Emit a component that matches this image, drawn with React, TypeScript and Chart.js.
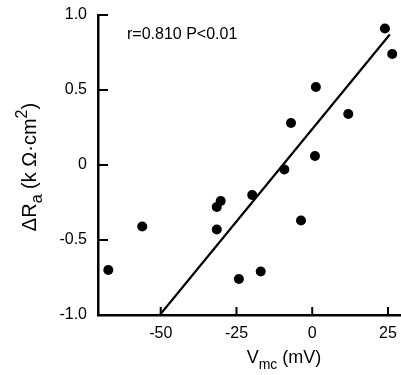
import { useEffect, useRef } from "react";
import { Chart, registerables } from "chart.js";

Chart.register(...registerables);

const VMC = [-67.3, -56.1, -31.5, -30.2, -31.5, -24.2, -19.8, -17.0, -9.2, -7.0, -3.7, 0.9, 1.2, 11.9, 24.0, 26.4];
const DRA = [-0.70, -0.41, -0.28, -0.24, -0.43, -0.76, -0.20, -0.71, -0.03, 0.28, -0.37, 0.06, 0.52, 0.34, 0.91, 0.74];
const FIT_X = [-50.3, 25.6];
const FIT_Y = [-1.0, 0.87];
const X_TICKS = [-50, -25, 0, 25];
const X_TICK_LABELS = ["-50", "-25", "0", "25"];
const Y_TICKS = [1.0, 0.5, 0, -0.5, -1.0];
const Y_TICK_LABELS = ["1.0", "0.5", "0", "-0.5", "-1.0"];
const ANNOTATION = "r=0.810 P<0.01";

const FONT = "'Liberation Sans', Arial, sans-serif";

const decor = {
  id: "decor",
  afterDraw(chart: any) {
    const ctx = chart.ctx as CanvasRenderingContext2D;
    const { left, bottom, top } = chart.chartArea;
    const xs = chart.scales.x;
    const ys = chart.scales.y;
    ctx.save();
    ctx.strokeStyle = "#000";
    ctx.fillStyle = "#000";
    ctx.lineWidth = 2;
    Y_TICKS.forEach((v) => {
      if (v === -1.0) return;
      const py = ys.getPixelForValue(v);
      ctx.beginPath();
      ctx.moveTo(left, py);
      ctx.lineTo(left + 10, py);
      ctx.stroke();
    });
    X_TICKS.forEach((v) => {
      const px = xs.getPixelForValue(v);
      ctx.beginPath();
      ctx.moveTo(px, bottom);
      ctx.lineTo(px, bottom - 8);
      ctx.stroke();
    });
    ctx.font = `16px ${FONT}`;
    ctx.textBaseline = "middle";
    ctx.textAlign = "left";
    ctx.fillText(ANNOTATION, left + 29, top + 20);

    const big = `18px ${FONT}`;
    const small = `14px ${FONT}`;
    const parts: [string, string, number][] = [
      ["V", big, 0],
      ["mc", small, 6],
      [" (mV)", big, 0],
    ];
    let total = 0;
    parts.forEach(([t, f]) => {
      ctx.font = f;
      total += ctx.measureText(t).width;
    });
    let x = 284 - total / 2;
    ctx.textBaseline = "alphabetic";
    parts.forEach(([t, f, dy]) => {
      ctx.font = f;
      ctx.fillText(t, x, 363 + dy);
      x += ctx.measureText(t).width;
    });

    const ybig = `20px ${FONT}`;
    const ysmall = `16px ${FONT}`;
    const yparts: [string, string, number][] = [
      ["ΔR", ybig, 0],
      ["a", ysmall, 6],
      [" (k Ω·cm", ybig, 0],
      ["2", ysmall, -9],
      [")", ybig, 0],
    ];
    let ytotal = 0;
    yparts.forEach(([t, f]) => {
      ctx.font = f;
      ytotal += ctx.measureText(t).width;
    });
    ctx.translate(36, 167);
    ctx.rotate(-Math.PI / 2);
    let yx = -ytotal / 2;
    yparts.forEach(([t, f, dy]) => {
      ctx.font = f;
      ctx.fillText(t, yx, dy);
      yx += ctx.measureText(t).width;
    });
    ctx.restore();
  },
};

export default function App() {
  const ref = useRef<HTMLCanvasElement | null>(null);
  useEffect(() => {
    document.body.style.margin = "0";
    const canvas = ref.current!;
    const chart = new Chart(canvas, {
      type: "scatter",
      data: {
        datasets: [
          {
            type: "line",
            data: FIT_X.map((x, i) => ({ x, y: FIT_Y[i] })),
            borderColor: "#000",
            borderWidth: 2.2,
            pointRadius: 0,
            fill: false,
          } as any,
          {
            data: VMC.map((x, i) => ({ x, y: DRA[i] })),
            backgroundColor: "#000",
            borderColor: "#000",
            pointRadius: 5,
            pointBorderWidth: 0,
          },
        ],
      },
      options: {
        animation: false,
        responsive: false,
        events: [],
        layout: { autoPadding: false, padding: { top: 15, right: 0, left: 0, bottom: 0 } },
        plugins: { legend: { display: false }, tooltip: { enabled: false } },
        scales: {
          x: {
            type: "linear",
            min: -70.7,
            max: 29.3,
            afterBuildTicks: (s: any) => {
              s.ticks = X_TICKS.map((v) => ({ value: v }));
            },
            afterFit: (s: any) => {
              s.height = 60;
              s.paddingLeft = 0;
              s.paddingRight = 0;
              s.paddingTop = 0;
              s.paddingBottom = 0;
            },
            grid: { display: true, drawOnChartArea: false, drawTicks: false },
            border: { display: true, color: "#000", width: 2.5 },
            ticks: {
              padding: 9,
              color: "#000",
              font: { family: FONT, size: 16 },
              callback: (v: any) => X_TICK_LABELS[X_TICKS.indexOf(Number(v))] ?? "",
            },
          },
          y: {
            type: "linear",
            min: -1,
            max: 1,
            afterBuildTicks: (s: any) => {
              s.ticks = Y_TICKS.map((v) => ({ value: v }));
            },
            afterFit: (s: any) => {
              s.width = 98;
              s.paddingLeft = 0;
              s.paddingRight = 0;
              s.paddingTop = 0;
              s.paddingBottom = 0;
            },
            grid: { display: true, drawOnChartArea: false, drawTicks: false },
            border: { display: true, color: "#000", width: 2.5 },
            ticks: {
              padding: 11,
              color: "#000",
              font: { family: FONT, size: 16 },
              callback: (v: any) => Y_TICK_LABELS[Y_TICKS.indexOf(Number(v))] ?? "",
            },
          },
        },
      },
      plugins: [decor],
    });
    return () => chart.destroy();
  }, []);
  return <canvas ref={ref} width={401} height={375} style={{ display: "block" }} />;
}
